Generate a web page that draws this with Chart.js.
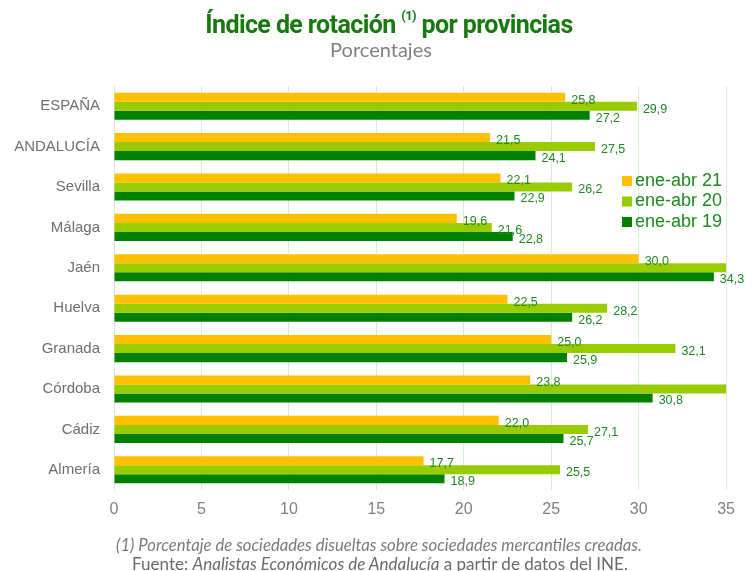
<!DOCTYPE html>
<html>
<head>
<meta charset="utf-8">
<script src="https://cdn.jsdelivr.net/npm/chart.js@4.4.0/dist/chart.umd.min.js"></script>
<style>
  html, body { margin: 0; padding: 0; background: #fff; }
  #wrap { position: relative; width: 745px; height: 571px; overflow: hidden; }
  #chart { position: absolute; left: 0; top: 0; }
  .txt { position: absolute; text-align: center; white-space: nowrap; width: 700px; }
  #title { left: 39px; top: 10px; font-family: "Liberation Sans Narrow", "Roboto", sans-serif; font-weight: bold; font-size: 25px; letter-spacing: -0.6px; color: #17790f; }
  #title sup { font-size: 13px; position: relative; top: -4px; }
  #subtitle { left: 31px; top: 37px; font-family: "Lato", sans-serif; font-size: 20px; color: #808080; }
  #note1 { left: 29px; top: 535px; font-family: "Lato", sans-serif; font-style: italic; font-size: 16.7px; color: #7a7a7a; }
  #note2 { left: 30px; top: 553px; font-family: "Lato", sans-serif; font-size: 17px; color: #6a6a6a; }
</style>
</head>
<body>
<div id="wrap">
  <canvas id="chart" width="745" height="571"></canvas>
  <div class="txt" id="title">Índice de rotación <sup>(1)</sup> por provincias</div>
  <div class="txt" id="subtitle">Porcentajes</div>
  <div class="txt" id="note1">(1) Porcentaje de sociedades disueltas sobre sociedades mercantiles creadas.</div>
  <div class="txt" id="note2">Fuente: <i>Analistas Económicos de Andalucía</i> a partir de datos del INE.</div>
</div>
<script>
// data (Jaén and Córdoba ene-abr 20 run past 35, estimated)
var provincias = ['ESPAÑA', 'ANDALUCÍA', 'Sevilla', 'Málaga', 'Jaén', 'Huelva', 'Granada', 'Córdoba', 'Cádiz', 'Almería'];
var serieNombres = ['ene-abr 21', 'ene-abr 20', 'ene-abr 19'];
var ene21 = [25.8, 21.5, 22.1, 19.6, 30.0, 22.5, 25.0, 23.8, 22.0, 17.7];
var ene20 = [29.9, 27.5, 26.2, 21.6, 38.0, 28.2, 32.1, 37.0, 27.1, 25.5];
var ene19 = [27.2, 24.1, 22.9, 22.8, 34.3, 26.2, 25.9, 30.8, 25.7, 18.9];
var ejeTicks = [0, 5, 10, 15, 20, 25, 30, 35];

var colores = ['#ffc000', '#99cc00', '#008000'];

// value labels at the end of each bar
var etiquetas = {
    id: 'etiquetas',
    afterDatasetsDraw: function(chart) {
        var ctx = chart.ctx;
        var max = chart.scales.x.max;
        ctx.save();
        ctx.font = '12.5px "Liberation Sans", Arial, sans-serif';
        ctx.fillStyle = '#1f8a1f';
        ctx.textAlign = 'left';
        ctx.textBaseline = 'middle';
        chart.data.datasets.forEach(function(ds, i) {
            chart.getDatasetMeta(i).data.forEach(function(bar, j) {
                var v = ds.data[j];
                if (v > max) return;
                ctx.fillText(v.toFixed(1).replace('.', ','), bar.x + 6, bar.y + 3);
            });
        });
        ctx.restore();
    }
};

// legend on the right side, inside the plot
var leyenda = {
    id: 'leyenda',
    afterDraw: function(chart) {
        var ctx = chart.ctx;
        ctx.save();
        ctx.font = '18px "Liberation Sans", Arial, sans-serif';
        ctx.textBaseline = 'middle';
        chart.data.datasets.forEach(function(ds, i) {
            var y = 181 + i * 20.5;
            ctx.fillStyle = ds.backgroundColor;
            ctx.fillRect(622, y - 5, 10, 10);
            ctx.fillStyle = '#1f8a1f';
            ctx.fillText(ds.label, 635, y);
        });
        ctx.restore();
    }
};

var ctx = document.getElementById('chart').getContext('2d');
var chart = new Chart(ctx, {
    type: 'bar',
    data: {
        labels: provincias,
        datasets: [
            { label: serieNombres[0], data: ene21, backgroundColor: colores[0] },
            { label: serieNombres[1], data: ene20, backgroundColor: colores[1] },
            { label: serieNombres[2], data: ene19, backgroundColor: colores[2] }
        ]
    },
    options: {
        indexAxis: 'y',
        responsive: false,
        animation: false,
        layout: { padding: { top: 86, right: 17, bottom: 0, left: 0 } },
        datasets: { bar: { categoryPercentage: 0.67, barPercentage: 1.0 } },
        plugins: {
            legend: { display: false },
            title: { display: false },
            tooltip: { enabled: false }
        },
        scales: {
            x: {
                min: 0,
                max: 35,
                afterBuildTicks: function(scale) {
                    scale.ticks = ejeTicks.map(function(v) { return { value: v }; });
                },
                afterFit: function(scale) { scale.height = 81; },
                grid: { color: '#d8ebd4', drawTicks: false, lineWidth: 1 },
                border: { display: false },
                ticks: {
                    padding: 10,
                    color: '#7f7f7f',
                    font: { family: '"Liberation Sans", Arial, sans-serif', size: 16 }
                }
            },
            y: {
                afterFit: function(scale) { scale.width = 114; },
                grid: { display: false, drawTicks: false },
                border: { display: true, color: '#d8ebd4' },
                ticks: {
                    padding: 14,
                    color: '#6f6f6f',
                    font: { family: '"Liberation Sans", Arial, sans-serif', size: 15 }
                }
            }
        }
    },
    plugins: [etiquetas, leyenda]
});
</script>
</body>
</html>
